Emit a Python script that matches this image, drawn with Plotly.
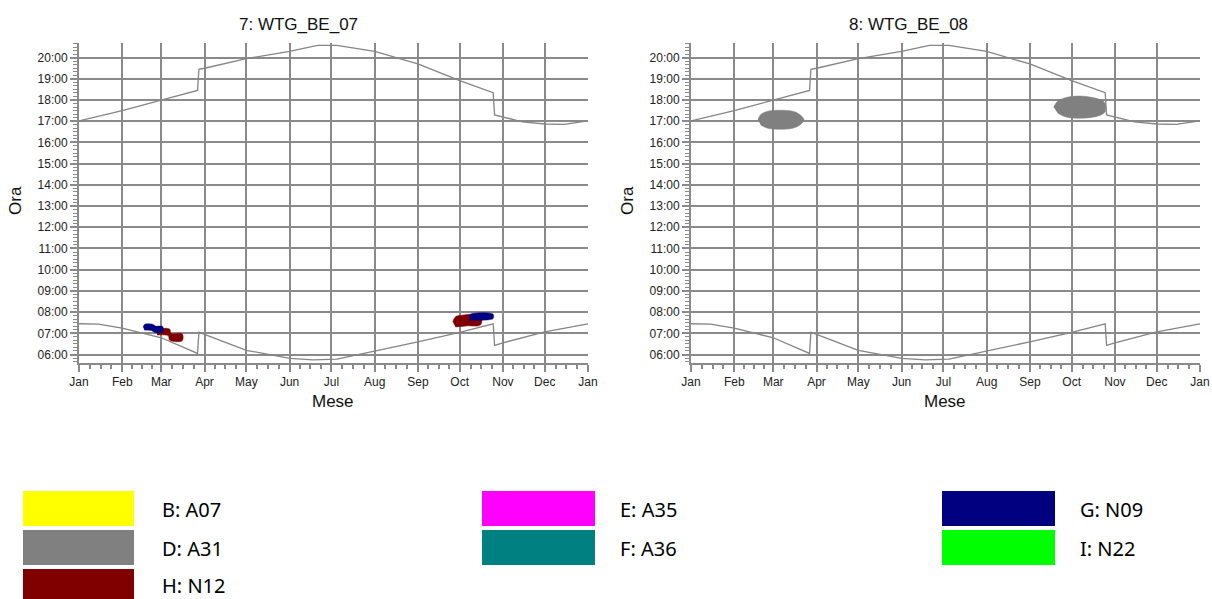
import plotly.graph_objects as go
from plotly.subplots import make_subplots
import pandas as pd

# ---------------- data ----------------
month_labels = ["Jan", "Feb", "Mar", "Apr", "May", "Jun", "Jul", "Aug", "Sep", "Oct", "Nov", "Dec", "Jan"]
hour_ticks = list(range(6, 21))
hour_labels = ["%02d:00" % h for h in hour_ticks]
chart_titles = ["7: WTG_BE_07", "8: WTG_BE_08"]

sunset_dates = ["2023-01-01", "2023-01-15", "2023-02-01", "2023-03-01", "2023-03-27", "2023-03-28",
                "2023-04-01", "2023-05-01", "2023-06-01", "2023-06-21", "2023-07-05", "2023-08-01",
                "2023-09-01", "2023-10-01", "2023-10-25", "2023-10-26", "2023-11-01", "2023-11-15",
                "2023-12-01", "2023-12-15", "2024-01-01"]
sunset_hours = [17.02, 17.24, 17.5, 18.0, 18.45, 19.45, 19.5, 19.95, 20.3, 20.58, 20.58, 20.29,
                19.7, 18.92, 18.35, 17.3, 17.2, 16.97, 16.87, 16.85, 17.02]

sunrise_dates = ["2023-01-01", "2023-01-15", "2023-02-01", "2023-03-01", "2023-03-27", "2023-03-28",
                 "2023-04-01", "2023-05-01", "2023-06-01", "2023-06-18", "2023-07-05", "2023-08-01",
                 "2023-09-01", "2023-10-01", "2023-10-25", "2023-10-26", "2023-11-01", "2023-12-01",
                 "2024-01-01"]
sunrise_hours = [7.45, 7.43, 7.24, 6.79, 6.05, 7.05, 6.95, 6.2, 5.82, 5.75, 5.78, 6.15,
                 6.6, 7.04, 7.45, 6.43, 6.55, 7.07, 7.45]

# shadow windows, WTG_BE_07
h12_mar_dates = ["2023-02-26", "2023-03-07", "2023-03-08", "2023-03-16", "2023-03-16",
                 "2023-03-07", "2023-03-06", "2023-02-26"]
h12_mar_hours = [7.2, 7.2, 7.0, 6.98, 6.65, 6.67, 6.88, 6.92]
g09_mar_dates = ["2023-02-16", "2023-02-17", "2023-02-23", "2023-02-25", "2023-03-02",
                 "2023-03-02", "2023-02-24", "2023-02-22", "2023-02-17"]
g09_mar_hours = [7.28, 7.42, 7.42, 7.34, 7.32, 7.05, 7.05, 7.13, 7.15]
h12_oct_dates = ["2023-09-26", "2023-09-28", "2023-10-02", "2023-10-16", "2023-10-16",
                 "2023-10-06", "2023-09-28"]
h12_oct_hours = [7.55, 7.78, 7.85, 7.85, 7.4, 7.35, 7.3]
g09_oct_dates = ["2023-10-08", "2023-10-10", "2023-10-22", "2023-10-25", "2023-10-25",
                 "2023-10-22", "2023-10-08"]
g09_oct_hours = [7.85, 7.93, 7.96, 7.9, 7.7, 7.64, 7.62]

# shadow windows, WTG_BE_08
d31_mar_dates = ["2023-02-18", "2023-02-20", "2023-02-25", "2023-03-06", "2023-03-15", "2023-03-20",
                 "2023-03-23", "2023-03-20", "2023-03-15", "2023-03-06", "2023-02-25", "2023-02-20"]
d31_mar_hours = [17.07, 17.32, 17.47, 17.52, 17.47, 17.32, 17.07, 16.82, 16.67, 16.62, 16.67, 16.82]
d31_oct_dates = ["2023-09-18", "2023-09-21", "2023-09-27", "2023-10-07", "2023-10-16", "2023-10-22",
                 "2023-10-25", "2023-10-25", "2023-10-22", "2023-10-16", "2023-10-07", "2023-09-27",
                 "2023-09-21"]
d31_oct_hours = [17.67, 17.95, 18.12, 18.19, 18.12, 18.0, 17.85, 17.45, 17.3, 17.19, 17.14, 17.2, 17.38]

legend_labels = ["B: A07", "D: A31", "H: N12", "E: A35", "F: A36", "G: N09", "I: N22"]
legend_colors = ["#FFFF00", "#808080", "#800000", "#FF00FF", "#008080", "#000080", "#00FF00"]
legend_cols = [0, 0, 0, 1, 1, 2, 2]
legend_rows = [0, 1, 2, 0, 1, 0, 1]

color_of = dict(zip([l.split(":")[0] for l in legend_labels], legend_colors))

# ---------------- figure ----------------
W, H = 1212, 599
ML, MR, MT, MB = 79, 12, 43, 599 - 363
PW, PH = W - ML - MR, H - MT - MB


def px(x):
    return (x - ML) / PW


def py(y):
    return (H - MB - y) / PH


fig = make_subplots(rows=1, cols=2, horizontal_spacing=0.0)
fig.update_xaxes(domain=[0, px(588)], row=1, col=1)
fig.update_xaxes(domain=[px(691), 1], row=1, col=2)

LINE = "#858585"
GRID = "#8a8a8a"

for c in (1, 2):
    fig.add_trace(go.Scatter(x=sunset_dates, y=sunset_hours, mode="lines",
                             line=dict(color=LINE, width=1.3), showlegend=False,
                             hoverinfo="skip"), row=1, col=c)
    fig.add_trace(go.Scatter(x=sunrise_dates, y=sunrise_hours, mode="lines",
                             line=dict(color=LINE, width=1.3), showlegend=False,
                             hoverinfo="skip"), row=1, col=c)

blobs = [
    (1, "H", h12_mar_dates, h12_mar_hours),
    (1, "G", g09_mar_dates, g09_mar_hours),
    (1, "H", h12_oct_dates, h12_oct_hours),
    (1, "G", g09_oct_dates, g09_oct_hours),
    (2, "D", d31_mar_dates, d31_mar_hours),
    (2, "D", d31_oct_dates, d31_oct_hours),
]
for col, key, xs, ys in blobs:
    fig.add_trace(go.Scatter(x=xs, y=ys, mode="lines", fill="toself",
                             fillcolor=color_of[key],
                             line=dict(width=0.5, color=color_of[key], shape="spline"),
                             showlegend=False), row=1, col=col)

# axis ticks
month_starts = pd.date_range("2023-01-01", "2024-01-01", freq="MS")
minor_vals = []
for a, b in zip(month_starts[:-1], month_starts[1:]):
    for k in (1, 2, 3):
        minor_vals.append(a + (b - a) * k / 4)

tickfont = dict(family="Liberation Sans, Arial", size=12, color="#222222")
fig.update_xaxes(type="date", range=["2023-01-01", "2024-01-01"], automargin=False,
                 tickmode="array", tickvals=list(month_starts), ticktext=month_labels,
                 ticks="outside", ticklen=7, tickwidth=1.5, tickcolor=GRID,
                 showgrid=True, gridcolor=GRID, gridwidth=2,
                 showline=True, linecolor=GRID, linewidth=2,
                 minor=dict(tickmode="array", tickvals=minor_vals, ticks="outside",
                            ticklen=4, tickwidth=1.5, tickcolor=GRID, showgrid=False),
                 tickfont=tickfont, zeroline=False)
fig.update_yaxes(range=[5.6, 20.69], automargin=False,
                 tickmode="array", tickvals=hour_ticks, ticktext=hour_labels,
                 ticks="outside", ticklen=7, tickwidth=1.5, tickcolor=GRID,
                 showgrid=True, gridcolor=GRID, gridwidth=2,
                 showline=True, linecolor=GRID, linewidth=2,
                 minor=dict(dtick=1 / 6, tick0=0, ticks="outside", ticklen=4, tickwidth=1.2,
                            tickcolor=GRID, showgrid=False),
                 tickfont=tickfont, zeroline=False)

annos = []
afont = dict(family="Liberation Sans, Arial", size=17, color="#111111")
for i, (cx_title, cx_plot, x_ora) in enumerate([(298, 333, 15), (908, 945, 627)]):
    annos.append(dict(text=chart_titles[i], x=px(cx_title), y=py(24), xref="paper", yref="paper",
                      showarrow=False, xanchor="center", yanchor="middle",
                      font=dict(family="Liberation Sans, Arial", size=17, color="#111111")))
    annos.append(dict(text="Mese", x=px(cx_plot), y=py(401), xref="paper", yref="paper",
                      showarrow=False, xanchor="center", yanchor="middle", font=afont))
    annos.append(dict(text="Ora", x=px(x_ora), y=py(201), xref="paper", yref="paper",
                      showarrow=False, xanchor="center", yanchor="middle", textangle=-90, font=afont))

# legend (drawn as boxes + labels)
shapes = []
col_rect_x = [(23, 134), (482, 595), (942, 1055)]
col_text_x = [160, 618, 1078]
row_y = [(491, 526), (530, 565), (569, 604)]
for lab, colr, c, r in zip(legend_labels, legend_colors, legend_cols, legend_rows):
    x0, x1 = col_rect_x[c]
    y0, y1 = row_y[r]
    shapes.append(dict(type="rect", xref="paper", yref="paper", x0=px(x0), x1=px(x1),
                       y0=py(y0), y1=py(y1), fillcolor=colr, line=dict(width=0)))
    annos.append(dict(text=lab, x=px(col_text_x[c]), y=py(min((y0 + y1) / 2 + 1, 585)),
                      xref="paper", yref="paper",
                      showarrow=False, xanchor="left", yanchor="middle",
                      font=dict(family="Noto Sans", size=20, color="#000000")))

fig.update_layout(width=W, height=H, margin=dict(l=ML, r=MR, t=MT, b=MB),
                  paper_bgcolor="white", plot_bgcolor="white",
                  annotations=annos, shapes=shapes, showlegend=False)

fig.write_html("out.html", config={"displayModeBar": False},
               post_script="document.body.style.margin='0';document.body.style.overflow='hidden';")
